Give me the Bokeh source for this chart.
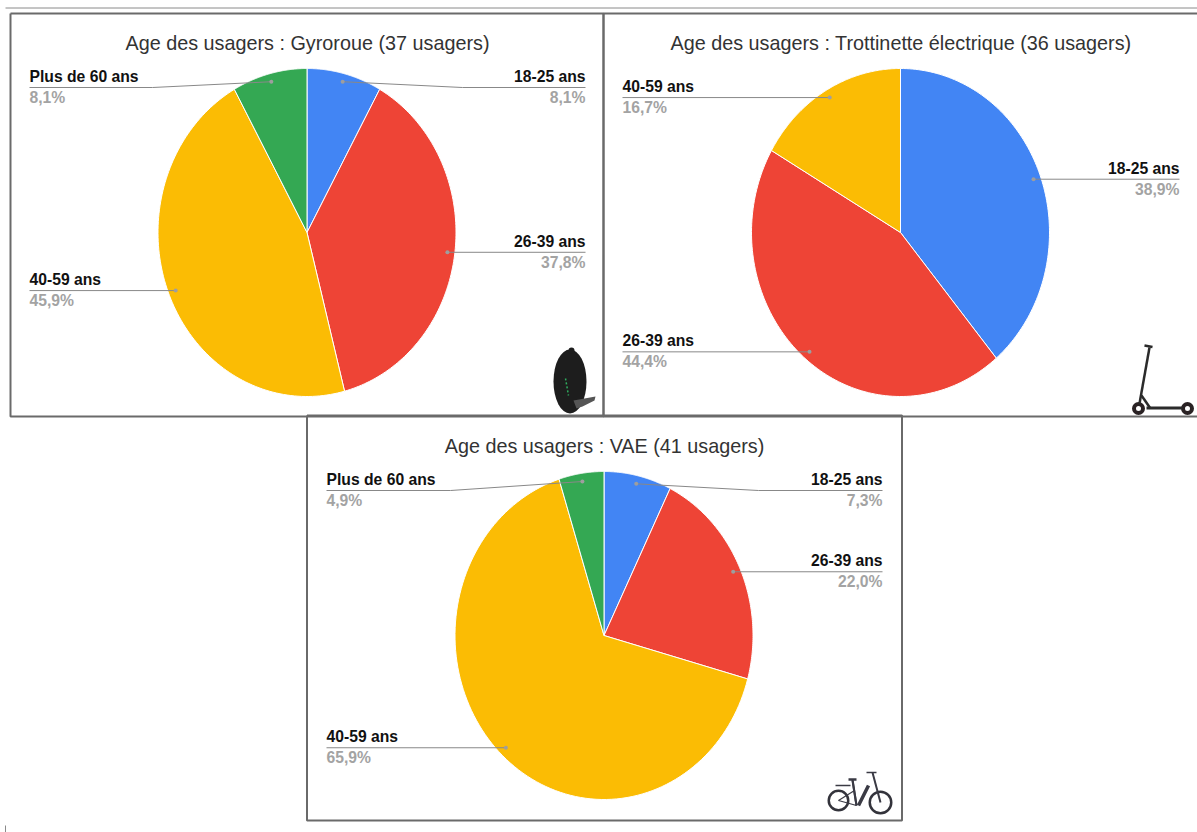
import numpy as np
from bokeh.core.properties import value
from bokeh.embed import file_html
from bokeh.models import Range1d
from bokeh.plotting import figure
from bokeh.resources import INLINE

# ---- data ----
titles = ["Age des usagers : Gyroroue (37 usagers)",
          "Age des usagers : Trottinette électrique (36 usagers)",
          "Age des usagers : VAE (41 usagers)"]
categories_a = ["18-25 ans", "26-39 ans", "40-59 ans", "Plus de 60 ans"]
categories_b = ["18-25 ans", "26-39 ans", "40-59 ans"]
categories_c = ["18-25 ans", "26-39 ans", "40-59 ans", "Plus de 60 ans"]
counts_a = [3, 14, 17, 3]
counts_b = [14, 16, 6]
counts_c = [3, 9, 27, 2]
pct_a = ["8,1%", "37,8%", "45,9%", "8,1%"]
pct_b = ["38,9%", "44,4%", "16,7%"]
pct_c = ["7,3%", "22,0%", "65,9%", "4,9%"]
colors = ["#4285F4", "#EE4436", "#FBBC04", "#34A853"]

# ---- layout (reference pixels) ----
X0, Y0, W, H = 0, 0, 1197, 832
RX, RY = 149, 164
panels = [
    dict(box=(10, 13, 603, 416), c=(306.5, 232), title_y=50, lx=29, rx=585,
         cats=categories_a, counts=counts_a, pct=pct_a,
         elbow={0: (462, 87), 3: (152, 87)}),
    dict(box=(603, 13, 1200, 416), c=(900, 232), title_y=50, lx=622, rx=1179,
         cats=categories_b, counts=counts_b, pct=pct_b, elbow={}),
    dict(box=(306.5, 415, 901.5, 820), c=(603.5, 635), title_y=453, lx=326, rx=882,
         cats=categories_c, counts=counts_c, pct=pct_c,
         elbow={0: (758, 490), 3: (450, 490)}),
]

p = figure(width=W, height=H, x_range=Range1d(X0, X0 + W), y_range=Range1d(Y0 + H, Y0),
           output_backend="svg", toolbar_location=None, min_border=0,
           outline_line_color=None)
p.axis.visible = False
p.grid.visible = False

FONT = value("Liberation Sans")
LINE = "#888888"

p.segment([5, 5], [7.5, 825], [X0 + W, 5], [7.5, 832], line_color="#8a8a8a", line_width=1)

for n, P in enumerate(panels):
    cx, cy = P["c"]
    x1, y1, x2, y2 = P["box"]
    tot = sum(P["counts"])
    edges = 2 * np.pi * np.concatenate([[0], np.cumsum(P["counts"])]) / tot
    xs, ys = [], []
    for a, b in zip(edges[:-1], edges[1:]):
        t = np.linspace(a, b, 120)
        xs.append(np.r_[cx, cx + RX * np.sin(t)])
        ys.append(np.r_[cy, cy - RY * np.cos(t)])
    p.patches(xs, ys, fill_color=colors[:len(xs)], line_color="#ffffff", line_width=1)

    p.multi_line([[x1, x1, x2, x2, x1]], [[y1, y2, y2, y1, y1]], line_color="#6a6a6a", line_width=2)
    p.text([cx + 0.5], [P["title_y"] - 8], text=[titles[n]],
           text_font=FONT, text_font_size="19.8px", text_color="#333333",
           text_align="center", text_baseline="alphabetic")

    mids = (edges[:-1] + edges[1:]) / 2
    for i, m in enumerate(mids):
        dx = cx + .95 * RX * np.sin(m)
        dy = cy - .95 * RY * np.cos(m)
        right = np.sin(m) > 0
        end = P["rx"] if right else P["lx"]
        if i in P["elbow"]:
            ex, ly = P["elbow"][i]
            lxs, lys = [dx, ex, end], [dy, ly, ly]
        else:
            ly = dy
            lxs, lys = [dx, end], [dy, dy]
        p.line(lxs, lys, line_color=LINE, line_width=1)
        p.scatter([dx], [dy], size=4, marker="circle", fill_color="#9e9e9e", line_color=None)
        al = "right" if right else "left"
        p.text([end], [ly - 11], text=[P["cats"][i]], text_font=FONT, text_font_style="bold",
               text_font_size="15.7px", text_color="#111111", text_align=al, text_baseline="alphabetic")
        p.text([end], [ly + 10], text=[P["pct"][i]], text_font=FONT, text_font_style="bold",
               text_font_size="15.7px", text_color="#a3a3a3", text_align=al, text_baseline="alphabetic")

# ---- little vehicle pictures ----
DARK = "#1d1d1d"
# gyroroue
p.ellipse([569.5], [381], width=33, height=64, fill_color=DARK, line_color=None)
p.scatter([571], [350], size=6, marker="circle", fill_color=DARK, line_color=None)
p.patch([573, 595, 594, 582, 576], [400, 396, 400, 406, 408], fill_color="#555555", line_color=None)
p.segment([565], [378], [568], [395], line_color="#2fae5f", line_width=1.5, line_dash="2 2")
# trottinette
p.annulus([1138, 1187], [408, 408], inner_radius=2.5, outer_radius=6.5, fill_color="#2a2224", line_color=None)
p.segment([1139, 1144, 1141, 1146], [403, 345, 395, 407.5], [1149, 1152, 1150, 1182], [347, 346.5, 408, 407.5],
          line_color="#2b2b2b", line_width=[2.5, 2.5, 2.5, 3])
# VAE
p.annulus([838, 880], [800, 802], inner_radius=[8.5, 9.5], outer_radius=[11, 12], fill_color="#33333b", line_color=None)
p.segment([835, 852, 868, 872, 848, 866, 852, 854, 856],
          [785, 779, 785, 772, 779, 772, 780, 790, 805],
          [850, 856, 858, 880, 856, 876, 856, 838, 838],
          [785, 805, 805, 802, 779, 772, 805, 800, 800],
          line_color="#3a3a44", line_width=[1.5, 2, 3.5, 2, 2.5, 1.5, 2, 1.2, 1.2])

open("out.html", "w").write(file_html(p, INLINE))
